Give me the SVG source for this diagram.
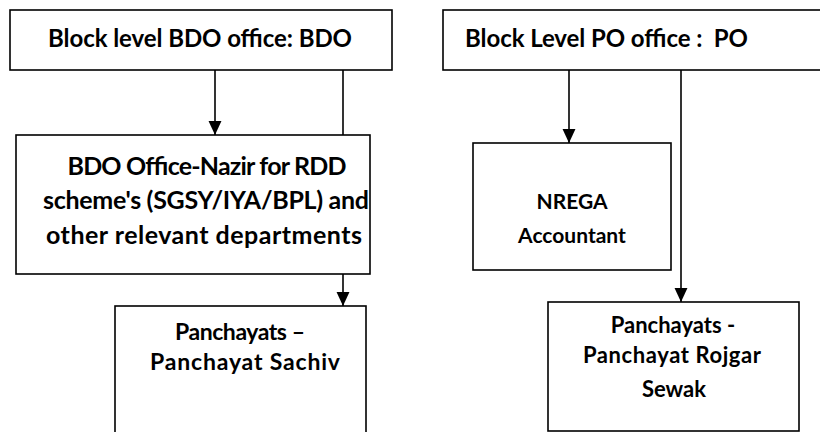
<svg xmlns="http://www.w3.org/2000/svg" width="820" height="432" viewBox="0 0 820 432">
<style>
.box{fill:#fff;stroke:#000;stroke-width:1.6}
.ln{fill:none;stroke:#000;stroke-width:1.6}
.t{font-family:Lato,"Liberation Sans",sans-serif;font-weight:bold;fill:#000}
.c{text-anchor:middle}
</style>
<defs>
<marker id="ah" markerUnits="userSpaceOnUse" markerWidth="14" markerHeight="14" viewBox="0 0 13 12" refX="13" refY="6" orient="auto">
<path d="M0,0 L13,6 L0,12 Z" fill="#000"/>
</marker>
</defs>
<rect width="820" height="432" fill="#fff"/>
<g id="connectors">
<line class="ln" x1="215" y1="70" x2="215" y2="135" marker-end="url(#ah)"/>
<line class="ln" x1="343" y1="70" x2="343" y2="306" marker-end="url(#ah)"/>
<line class="ln" x1="569" y1="70" x2="569" y2="143" marker-end="url(#ah)"/>
<line class="ln" x1="681" y1="70" x2="681" y2="302" marker-end="url(#ah)"/>
</g>
<g id="bdo">
<rect class="box" x="10" y="10" width="382" height="60"/>
<text class="t c" x="200" y="47" font-size="24" textLength="304">Block level BDO office: BDO</text>
</g>
<g id="po">
<rect class="box" x="443" y="10" width="390" height="60"/>
<text class="t" x="465" y="47" font-size="24" textLength="283" xml:space="preserve">Block Level PO office :  PO</text>
</g>
<g id="nazir">
<rect class="box" x="16" y="135" width="354" height="139"/>
<text class="t c" x="207" y="175" font-size="25" textLength="279">BDO Office-Nazir for RDD</text>
<text class="t c" x="206" y="209" font-size="25" textLength="326">scheme's (SGSY/IYA/BPL) and</text>
<text class="t c" x="204" y="244" font-size="25" textLength="316">other relevant departments</text>
</g>
<g id="nrega">
<rect class="box" x="473" y="143" width="198" height="127"/>
<text class="t c" x="572" y="209" font-size="21">NREGA</text>
<text class="t c" x="572" y="243" font-size="21">Accountant</text>
</g>
<g id="sachiv">
<rect class="box" x="115" y="306" width="251" height="140"/>
<text class="t c" x="240" y="340" font-size="23" textLength="130">Panchayats –</text>
<text class="t c" x="245" y="370" font-size="23" textLength="190">Panchayat Sachiv</text>
</g>
<g id="rojgar">
<rect class="box" x="548" y="302" width="251" height="129"/>
<text class="t c" x="673" y="333" font-size="22">Panchayats -</text>
<text class="t c" x="672" y="363" font-size="22" textLength="178">Panchayat Rojgar</text>
<text class="t c" x="674" y="397" font-size="22">Sewak</text>
</g>
</svg>
